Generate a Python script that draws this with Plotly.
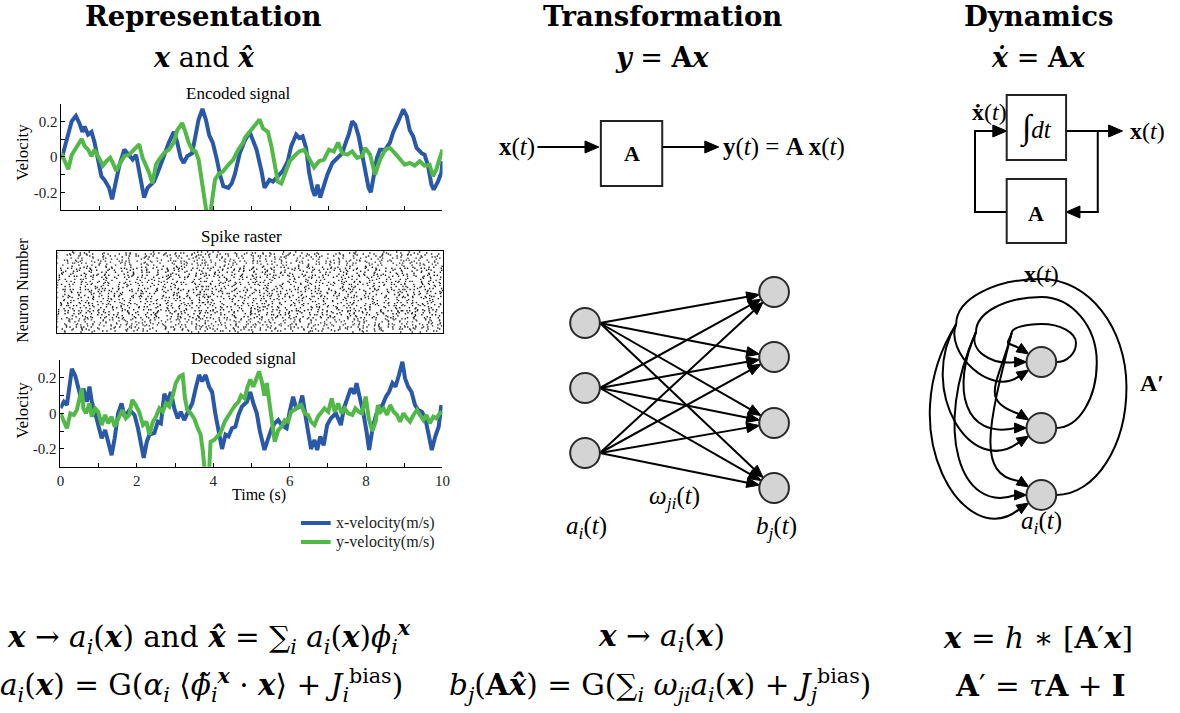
import math
import numpy as np
import plotly.graph_objects as go

W, H = 1180, 713
SERIF = "Liberation Serif"
HEAD = "DejaVu Serif"
EQF = "DejaVu Serif"
BLUE = "#2a58a8"
GREEN = "#52b848"

# ---------------- data ----------------
enc_x_t = [0.0, 0.1, 0.18, 0.27, 0.38, 0.47, 0.55, 0.61, 0.7, 0.79, 0.87, 0.96, 1.05, 1.13, 1.25,
           1.33, 1.42, 1.52, 1.65, 1.77, 1.87, 1.96, 2.03, 2.09, 2.17, 2.26, 2.35, 2.43, 2.56, 2.69,
           2.82, 2.95, 3.04, 3.13, 3.21, 3.3, 3.43, 3.52, 3.6, 3.7, 3.79, 3.88, 3.97, 4.08, 4.16,
           4.25, 4.38, 4.47, 4.55, 4.68, 4.81, 4.94, 4.99, 5.12, 5.25, 5.33, 5.46, 5.55, 5.68, 5.81,
           5.94, 6.03, 6.16, 6.24, 6.33, 6.42, 6.5, 6.59, 6.65, 6.72, 6.79, 6.88, 6.98, 7.11, 7.24,
           7.37, 7.46, 7.54, 7.63, 7.71, 7.8, 7.89, 7.97, 8.06, 8.12, 8.19, 8.28, 8.36, 8.5, 8.62,
           8.71, 8.84, 8.97, 9.06, 9.14, 9.23, 9.32, 9.45, 9.53, 9.62, 9.71, 9.77, 9.88, 9.97, 10.0]
enc_x_v = [-0.016, 0.06, 0.12, 0.2, 0.23, 0.19, 0.14, 0.17, 0.125, 0.14, 0.08, -0.025, -0.11, -0.13, -0.175,
           -0.24, -0.15, -0.05, 0.04, 0.01, -0.016, 0.01, -0.07, -0.16, -0.23, -0.175, -0.16, -0.14, -0.07, 0.01,
           0.08, 0.14, 0.08, -0.006, -0.035, 0.003, 0.02, 0.12, 0.21, 0.27, 0.21, 0.12, 0.08, -0.016, -0.1,
           -0.166, -0.175, -0.15, -0.1, 0.02, 0.09, 0.14, 0.115, 0.04, -0.08, -0.175, -0.13, -0.14, -0.11, -0.08,
           -0.025, 0.06, 0.125, 0.106, 0.115, 0.05, -0.09, -0.185, -0.22, -0.157, -0.23, -0.166, -0.1, -0.035, -0.006,
           0.02, 0.08, 0.125, 0.2, 0.18, 0.115, 0.012, -0.1, -0.175, -0.2, -0.12, -0.006, 0.04, 0.04, 0.08,
           0.14, 0.2, 0.266, 0.23, 0.15, 0.115, 0.05, 0.02, 0.012, -0.05, -0.157, -0.185, -0.14, -0.09, -0.025]

enc_y_t = [0.0, 0.1, 0.18, 0.27, 0.35, 0.44, 0.53, 0.61, 0.7, 0.79, 0.87, 0.96, 1.09, 1.18, 1.28,
           1.35, 1.44, 1.52, 1.65, 1.78, 1.91, 2.04, 2.13, 2.22, 2.3, 2.39, 2.48, 2.56, 2.69, 2.82,
           2.95, 3.04, 3.17, 3.26, 3.34, 3.43, 3.52, 3.6, 3.69, 3.76, 3.82, 3.9, 3.97, 4.03, 4.12,
           4.25, 4.38, 4.51, 4.64, 4.77, 4.81, 4.94, 5.07, 5.2, 5.29, 5.42, 5.51, 5.59, 5.68, 5.77,
           5.86, 5.99, 6.11, 6.24, 6.37, 6.5, 6.63, 6.76, 6.89, 7.02, 7.15, 7.26, 7.37, 7.5, 7.63,
           7.76, 7.89, 7.97, 8.1, 8.23, 8.36, 8.5, 8.62, 8.75, 8.88, 9.01, 9.14, 9.27, 9.4, 9.53,
           9.66, 9.75, 9.84, 9.92, 10.0]
enc_y_v = [0.02, -0.035, -0.07, 0.01, 0.04, 0.07, 0.1, 0.06, 0.04, 0.003, 0.04, 0.003, -0.05, -0.025, -0.006,
           -0.035, -0.08, -0.045, 0.003, 0.012, 0.04, 0.07, -0.006, -0.05, -0.09, -0.15, -0.045, -0.016, 0.02, 0.04,
           0.08, 0.15, 0.19, 0.135, 0.08, 0.04, 0.03, -0.016, -0.13, -0.24, -0.33, -0.33, -0.2, -0.13, -0.1,
           -0.08, -0.045, -0.016, 0.04, 0.08, 0.106, 0.14, 0.17, 0.21, 0.16, 0.14, 0.06, -0.05, -0.14, -0.15,
           -0.1, -0.025, 0.003, 0.03, 0.04, -0.006, -0.06, -0.025, -0.016, 0.04, 0.03, 0.08, 0.02, 0.012, 0.03,
           -0.006, 0.003, 0.05, 0.012, -0.1, -0.016, 0.04, 0.05, 0.02, -0.016, -0.045, -0.035, -0.05, -0.025, -0.05,
           -0.045, -0.11, -0.07, -0.006, 0.04]

dec_x_t = [0.0, 0.09, 0.17, 0.24, 0.3, 0.39, 0.47, 0.56, 0.6, 0.69, 0.76, 0.82, 0.91, 0.99, 1.08,
           1.17, 1.25, 1.34, 1.42, 1.51, 1.6, 1.68, 1.81, 1.94, 2.03, 2.09, 2.18, 2.26, 2.33, 2.46,
           2.55, 2.63, 2.72, 2.81, 2.89, 2.98, 3.07, 3.15, 3.24, 3.32, 3.45, 3.54, 3.63, 3.71, 3.8,
           3.89, 3.97, 4.06, 4.15, 4.23, 4.32, 4.4, 4.49, 4.58, 4.66, 4.75, 4.88, 4.97, 5.05, 5.14,
           5.22, 5.34, 5.44, 5.53, 5.61, 5.7, 5.79, 5.92, 6.0, 6.09, 6.17, 6.26, 6.33, 6.39, 6.48,
           6.56, 6.65, 6.72, 6.8, 6.89, 6.98, 7.08, 7.21, 7.34, 7.42, 7.51, 7.6, 7.69, 7.75, 7.84,
           7.93, 8.01, 8.08, 8.17, 8.26, 8.34, 8.43, 8.52, 8.6, 8.69, 8.77, 8.86, 8.95, 9.02, 9.1,
           9.19, 9.28, 9.36, 9.46, 9.55, 9.64, 9.72, 9.81, 9.9, 9.97]
dec_x_v = [0.03, 0.065, 0.047, 0.18, 0.25, 0.21, 0.14, 0.065, 0.14, 0.065, 0.15, 0.065, 0.0, -0.066, -0.14,
           -0.094, -0.16, -0.235, -0.14, 0.0, 0.056, -0.019, 0.019, -0.009, -0.084, -0.16, -0.25, -0.16, -0.12, -0.11,
           -0.047, -0.056, 0.11, 0.065, 0.12, 0.028, -0.028, 0.009, -0.038, 0.0, 0.056, 0.14, 0.216, 0.18, 0.216,
           0.15, 0.12, -0.009, -0.1, -0.2, -0.12, -0.13, -0.084, -0.075, -0.009, 0.038, 0.065, 0.12, 0.056, 0.0,
           -0.1, -0.206, -0.14, -0.084, -0.056, -0.038, -0.066, -0.084, 0.009, 0.094, 0.028, 0.038, 0.1, 0.009, -0.1,
           -0.2, -0.15, -0.206, -0.13, -0.18, -0.066, -0.028, 0.0, -0.066, 0.028, 0.084, 0.14, 0.11, 0.17, 0.084,
           0.0, -0.1, -0.206, -0.084, -0.009, 0.028, 0.047, 0.094, 0.12, 0.17, 0.15, 0.216, 0.29, 0.197, 0.15,
           0.12, 0.047, 0.019, 0.009, -0.028, -0.12, -0.206, -0.13, -0.075, 0.047]

dec_y_t = [0.0, 0.1, 0.17, 0.26, 0.35, 0.43, 0.5, 0.56, 0.6, 0.67, 0.76, 0.82, 0.91, 0.99, 1.08,
           1.17, 1.25, 1.34, 1.42, 1.51, 1.62, 1.71, 1.8, 1.88, 1.97, 2.06, 2.16, 2.25, 2.33, 2.42,
           2.5, 2.59, 2.68, 2.76, 2.85, 2.94, 3.02, 3.11, 3.2, 3.26, 3.32, 3.41, 3.5, 3.58, 3.67,
           3.73, 3.78, 3.89, 3.93, 4.02, 4.1, 4.19, 4.3, 4.4, 4.49, 4.58, 4.66, 4.73, 4.82, 4.9,
           4.97, 5.05, 5.14, 5.2, 5.27, 5.34, 5.4, 5.46, 5.54, 5.61, 5.7, 5.79, 5.87, 5.96, 6.04,
           6.13, 6.22, 6.3, 6.39, 6.48, 6.56, 6.65, 6.74, 6.82, 6.91, 7.01, 7.1, 7.18, 7.27, 7.36,
           7.44, 7.53, 7.64, 7.72, 7.81, 7.89, 7.99, 8.07, 8.16, 8.25, 8.31, 8.38, 8.46, 8.55, 8.63,
           8.72, 8.81, 8.89, 8.98, 9.07, 9.15, 9.24, 9.33, 9.41, 9.5, 9.58, 9.67, 9.76, 9.84, 9.93, 9.98]
dec_y_v = [0.0, -0.047, -0.084, 0.0, -0.009, 0.019, 0.1, 0.14, 0.028, 0.0, 0.056, -0.019, 0.028, 0.009, -0.066,
           -0.009, -0.056, -0.019, -0.075, -0.038, 0.019, -0.028, -0.009, 0.075, 0.047, 0.009, -0.066, -0.047, -0.12, -0.047,
           -0.019, 0.028, 0.009, 0.056, 0.038, 0.1, 0.17, 0.206, 0.216, 0.084, 0.019, 0.0, -0.028, -0.075, -0.12,
           -0.216, -0.33, -0.33, -0.16, -0.15, -0.13, -0.11, -0.047, -0.009, 0.019, 0.047, 0.065, 0.1, 0.084, 0.15,
           0.19, 0.15, 0.2, 0.235, 0.18, 0.1, 0.17, 0.065, -0.047, -0.16, -0.094, -0.075, -0.038, -0.047, 0.009,
           0.019, 0.038, 0.047, 0.0, -0.009, -0.047, -0.066, -0.019, 0.0, 0.028, 0.009, 0.084, 0.009, 0.056, 0.0,
           0.028, 0.0, -0.009, 0.028, 0.009, 0.0, 0.094, -0.028, -0.1, -0.047, 0.047, 0.009, 0.028, -0.009, 0.047,
           0.009, -0.009, -0.047, 0.0, -0.028, -0.047, -0.009, 0.019, -0.009, -0.038, -0.009, -0.056, -0.019, -0.028, 0.0, 0.009]

for a, b in [(enc_x_t, enc_x_v), (enc_y_t, enc_y_v), (dec_x_t, dec_x_v), (dec_y_t, dec_y_v)]:
    assert len(a) == len(b), (len(a), len(b))

y_tickvals = [-0.2, -0.1, 0.0, 0.1, 0.2]
y_ticktext = ["-0.2", "", "0", "", "0.2"]
x_tickvals = list(range(11))
x_ticktext = ["0", "", "2", "", "4", "", "6", "", "8", "", "10"]
series_names = ["x-velocity(m/s)", "y-velocity(m/s)"]
series_colors = [BLUE, GREEN]

# Spike raster: neurons encode the (read) encoded signal with an integrate-and-fire rule
n_neurons = 80
t_fine = np.linspace(0, 10, 4001)
vx = np.interp(t_fine, enc_x_t, enc_x_v)
vy = np.interp(t_fine, enc_y_t, enc_y_v)
dt = t_fine[1] - t_fine[0]
spk_t, spk_n = [], []
for n in range(n_neurons):
    theta = 2 * np.pi * ((n * 0.6180339887) % 1)
    gain = 8 + 22 * ((n * 0.7548776662) % 1)
    bias = 1.3 + 3.4 * ((n * 0.5698402910) % 1)
    rate = np.maximum(0.0, gain * (np.cos(theta) * vx + np.sin(theta) * vy) + bias)
    acc = (n * 0.381966) % 1
    m = 0
    thr = 0.35 + 1.3 * ((n * 0.4142 + m * 0.6180339887) % 1)
    for k in range(len(t_fine)):
        acc += rate[k] * dt
        if acc >= thr:
            acc = 0.0
            m += 1
            thr = 0.35 + 1.3 * ((n * 0.4142 + m * 0.6180339887) % 1)
            spk_t.append(t_fine[k])
            spk_n.append(n)

# ---------------- figure ----------------
fig = go.Figure()
fig.add_trace(go.Scatter(x=enc_x_t, y=enc_x_v, mode="lines", line=dict(color=BLUE, width=4),
                         name=series_names[0], showlegend=False, xaxis="x", yaxis="y"))
fig.add_trace(go.Scatter(x=enc_y_t, y=enc_y_v, mode="lines", line=dict(color=GREEN, width=4),
                         name=series_names[1], showlegend=False, xaxis="x", yaxis="y"))
fig.add_trace(go.Scatter(x=spk_t, y=spk_n, mode="markers", showlegend=False,
                         marker=dict(symbol="square", size=1.4, color="#222", line=dict(width=0)),
                         xaxis="x2", yaxis="y2"))
fig.add_trace(go.Scatter(x=dec_x_t, y=dec_x_v, mode="lines", line=dict(color=BLUE, width=4),
                         showlegend=False, xaxis="x3", yaxis="y3"))
fig.add_trace(go.Scatter(x=dec_y_t, y=dec_y_v, mode="lines", line=dict(color=GREEN, width=4),
                         showlegend=False, xaxis="x3", yaxis="y3"))

tickfont = dict(family=SERIF, size=15, color="#222")
ax_common = dict(showline=True, linecolor="black", linewidth=1, ticks="inside", ticklen=4,
                 tickcolor="black", tickwidth=1, showgrid=False, zeroline=False, tickfont=tickfont)


def X(px):
    return px / W


def Y(py):
    return 1 - py / H


shapes = []
annotations = []


def line(x0, y0, x1, y1, w=2, color="black"):
    shapes.append(dict(type="line", xref="paper", yref="paper", x0=X(x0), y0=Y(y0), x1=X(x1), y1=Y(y1),
                       line=dict(color=color, width=w), layer="above"))


def head(tx, ty, ux, uy, L=12, hw=5):
    bx, by = tx - ux * L, ty - uy * L
    nx, ny = -uy, ux
    p = (f"M {X(tx)},{Y(ty)} L {X(bx + nx * hw)},{Y(by + ny * hw)} "
         f"L {X(bx - nx * hw)},{Y(by - ny * hw)} Z")
    shapes.append(dict(type="path", xref="paper", yref="paper", path=p, fillcolor="black",
                       line=dict(color="black", width=1), layer="above"))


def arrow(x0, y0, x1, y1, w=2, L=12, hw=5):
    d = math.hypot(x1 - x0, y1 - y0)
    ux, uy = (x1 - x0) / d, (y1 - y0) / d
    line(x0, y0, x1 - ux * (L - 2), y1 - uy * (L - 2), w)
    head(x1, y1, ux, uy, L, hw)


def circle(cx, cy, r):
    shapes.append(dict(type="circle", xref="paper", yref="paper", x0=X(cx - r), x1=X(cx + r),
                       y0=Y(cy + r), y1=Y(cy - r), fillcolor="#d4d4d4",
                       line=dict(color="#2a2a2a", width=2), layer="above"))


def rect(x0, y0, x1, y1):
    shapes.append(dict(type="rect", xref="paper", yref="paper", x0=X(x0), x1=X(x1), y0=Y(y1), y1=Y(y0),
                       fillcolor="white", line=dict(color="#222", width=2), layer="above"))


def bez(pts, w=2):
    s = f"M {X(pts[0][0])},{Y(pts[0][1])}"
    for i in range(1, len(pts), 3):
        s += " C " + " ".join(f"{X(p[0])},{Y(p[1])}" for p in pts[i:i + 3])
    shapes.append(dict(type="path", xref="paper", yref="paper", path=s,
                       line=dict(color="black", width=w), layer="above"))


def txt(x, y, s, size=16, family=SERIF, xanchor="center", angle=0, color="black"):
    annotations.append(dict(x=X(x), y=Y(y), xref="paper", yref="paper", text=s, showarrow=False,
                            xanchor=xanchor, yanchor="middle", textangle=angle,
                            font=dict(family=family, size=size, color=color)))


# ---- headers ----
txt(202, 16, "<b>Representation</b>", 27.5, HEAD)
txt(202, 57, "<b><i>x</i></b> and <b><i>x\u0302</i></b>", 27, HEAD)
txt(665, 16, "<b>Transformation</b>", 27.5, HEAD)
txt(665, 57, "<b><i>y</i></b> = <b>A</b><b><i>x</i></b>", 27, HEAD)
txt(1045, 16, "<b>Dynamics</b>", 27.5, HEAD)
txt(1045, 57, "<b><i>x\u0307</i></b> = <b>A</b><b><i>x</i></b>", 27, HEAD)

# ---- left panel labels ----
txt(237, 93, "Encoded signal", 17)
txt(240, 236, "Spike raster", 17)
txt(242, 359, "Decoded signal", 17)
txt(18, 152, "Velocity", 17, angle=-90)
txt(18, 290, "Neuron Number", 16, angle=-90)
txt(18, 410, "Velocity", 17, angle=-90)
txt(258, 495, "Time (s)", 16)

# manual legend for the two series
for i, (nm, col) in enumerate(zip(series_names, series_colors)):
    ly = 523 + 19 * i
    line(300, ly, 330, ly, w=4, color=col)
    txt(333, ly, nm, 16, xanchor="left", color="#222")

# ---- middle: block diagram ----
bx0, bx1, by0, by1 = 603, 665, 121, 186
ymid = 147
arrow(539, ymid, bx0 - 2, ymid, L=14, hw=6)
rect(bx0, by0, bx1, by1)
arrow(bx1, ymid, 722, ymid, L=14, hw=6)
txt(518, ymid, "<b>x</b>(<i>t</i>)", 25)
txt(634, 153, "<b>A</b>", 22)
txt(724, ymid, "<b>y</b>(<i>t</i>) = <b>A x</b>(<i>t</i>)", 25, xanchor="left")

# ---- middle: feed-forward network ----
left_x, left_y = 587, [323, 388, 453]
right_x, right_y = 778, [292, 357, 423, 488]
node_r = 15
for ly in left_y:
    sx, sy = left_x + node_r, ly
    for ry in right_y:
        d = math.hypot(right_x - sx, ry - sy)
        ux, uy = (right_x - sx) / d, (ry - sy) / d
        arrow(sx, sy, right_x - ux * node_r, ry - uy * node_r, L=13, hw=5)
for ly in left_y:
    circle(left_x, ly, node_r)
for ry in right_y:
    circle(right_x, ry, node_r)
txt(677, 497, "<i>\u03c9<sub>ji</sub></i>(<i>t</i>)", 25)
txt(588, 527, "<i>a<sub>i</sub></i>(<i>t</i>)", 25)
txt(780, 527, "<i>b<sub>j</sub></i>(<i>t</i>)", 25)

# ---- right: dynamics block diagram ----
tb = (1013, 95, 1073, 160)
bb = (1013, 179, 1073, 243)
y_top, y_bot = 131, 212
x_fb, x_br = 981, 1105
line(bb[0], y_bot, x_fb, y_bot)
line(x_fb, y_bot + 1, x_fb, y_top)
arrow(x_fb - 1, y_top, tb[0], y_top, L=14, hw=6)
arrow(tb[2], y_top, 1130, y_top, L=14, hw=6)
line(x_br, y_top, x_br, y_bot)
arrow(x_br + 1, y_bot, bb[2], y_bot, L=14, hw=6)
rect(*tb)
rect(*bb)
txt(1043, 128, "<span style='font-size:34px'>\u222b</span><i>dt</i>", 25)
txt(1043, 213, "<b>A</b>", 22)
txt(996, 112, "<b>x\u0307</b>(<i>t</i>)", 24)
txt(1155, 131, "<b>x</b>(<i>t</i>)", 24)

# ---- right: recurrent network ----
rec_x, rec_y = 1048, [362, 428, 495]
loop_right = [1083, 1104, 1134]
loop_top = [324, 297, 279]
loop_split = [(1018, 333), (982, 332), (962, 324)]
loop_lean = [14, 26, 40]
entry_dy = [-8, 0, 8]
K = 0.552
for k in range(3):
    Sx, Sy = rec_x + node_r, rec_y[k]
    R, top = loop_right[k], loop_top[k]
    mid = (Sy + top) / 2
    sx, sy = loop_split[k]
    pts = [(Sx, Sy),
           (Sx + K * (R - Sx), Sy), (R, mid + K * (Sy - mid)), (R, mid),
           (R, mid - K * (mid - top)), (rec_x + K * (R - rec_x), top), (rec_x, top),
           (rec_x - K * (rec_x - sx), top), (sx, sy - K * (sy - top)), (sx, sy)]
    bez(pts)
    for j in range(3):
        dy = entry_dy[k]
        ex = rec_x - math.sqrt(node_r ** 2 - dy ** 2)
        ey = rec_y[j] + dy
        ux, uy = (rec_x - ex) / node_r, (rec_y[j] - ey) / node_r
        drop = max(ey - sy, 10)
        lean = loop_lean[k] * (0.3 + 0.7 * j)
        dist = min(45, 8 + 0.5 * drop)
        bx, by = ex - ux * 11, ey - uy * 11
        bez([(sx, sy), (sx - lean, sy + 0.6 * drop),
             (bx - ux * dist - 0.25 * lean, by - uy * dist + 0.12 * drop), (bx, by)])
        head(ex, ey, ux, uy, 12, 5)
for ry in rec_y:
    circle(rec_x, ry, node_r)
txt(1048, 274, "<b>x</b>(<i>t</i>)", 24)
txt(1160, 383, "<b>A\u2032</b>", 24)
txt(1048, 522, "<i>a<sub>i</sub></i>(<i>t</i>)", 25)

# ---- equations ----
EQ = 29.5
bx_ = "<b><i>x</i></b>"
txt(413, 637, f"{bx_} \u2192 <i>a</i><sub><i>i</i></sub>({bx_}) and <b><i>x\u0302</i></b> = "
              f"\u2211<sub><i>i</i></sub> <i>a</i><sub><i>i</i></sub>({bx_})<i>\u03d5</i><sub><i>i</i></sub><sup>{bx_}</sup>",
    EQ, EQF, xanchor="right")
txt(405, 685, f"<i>a</i><sub><i>i</i></sub>({bx_}) = G(<i>\u03b1</i><sub><i>i</i></sub> \u27e8<i>\u03d5\u0303</i><sub><i>i</i></sub>"
              f"<sup>{bx_}</sup> \u00b7 {bx_}\u27e9 + <i>J</i><sub><i>i</i></sub><sup>bias</sup>)",
    EQ, EQF, xanchor="right")
txt(664, 637, f"{bx_} \u2192 <i>a</i><sub><i>i</i></sub>({bx_})", EQ, EQF)
txt(663, 685, f"<i>b</i><sub><i>j</i></sub>(<b>A</b><b><i>x\u0302</i></b>) = G(\u2211<sub><i>i</i></sub> "
              f"<i>\u03c9</i><sub><i>ji</i></sub><i>a</i><sub><i>i</i></sub>({bx_}) + <i>J</i><sub><i>j</i></sub><sup>bias</sup>)",
    EQ, EQF)
txt(1045, 637, f"{bx_} = <i>h</i> \u2217 [<b>A</b>\u2032{bx_}]", EQ, EQF)
txt(1047, 685, "<b>A</b>\u2032 = <i>\u03c4</i><b>A</b> + <b>I</b>", EQ, EQF)

fig.update_layout(
    width=W, height=H, margin=dict(l=0, r=0, t=0, b=0),
    paper_bgcolor="white", plot_bgcolor="white", showlegend=False,
    xaxis=dict(domain=[X(58), X(443)], range=[0, 10], anchor="y", tickvals=x_tickvals,
               showticklabels=False, **ax_common),
    yaxis=dict(domain=[Y(210), Y(103.5)], range=[-0.3, 0.3], anchor="x", tickvals=y_tickvals,
               ticktext=y_ticktext, **ax_common),
    xaxis2=dict(domain=[X(54), X(444)], range=[0, 10], anchor="y2", showline=True, mirror=True,
                linecolor="black", linewidth=1, ticks="", showticklabels=False, showgrid=False, zeroline=False),
    yaxis2=dict(domain=[Y(333), Y(251)], range=[-1, n_neurons], anchor="x2", showline=True, mirror=True,
                linecolor="black", linewidth=1, ticks="", showticklabels=False, showgrid=False, zeroline=False),
    xaxis3=dict(domain=[X(57), X(443)], range=[0, 10], anchor="y3", tickvals=x_tickvals,
                ticktext=x_ticktext, **ax_common),
    yaxis3=dict(domain=[Y(466.7), Y(360)], range=[-0.3, 0.3], anchor="x3", tickvals=y_tickvals,
                ticktext=y_ticktext, **ax_common),
    shapes=shapes, annotations=annotations,
)

fig.write_html("out.html", config={"displayModeBar": False},
               post_script="document.body.style.margin='0px';")
